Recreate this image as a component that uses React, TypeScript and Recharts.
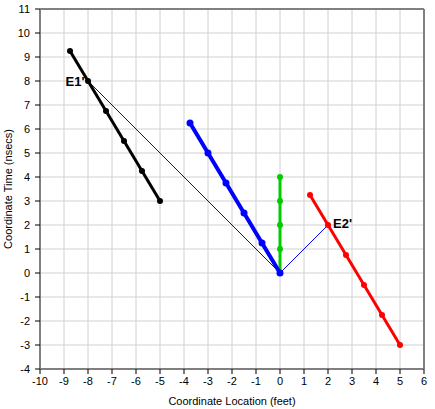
import React from "react";
import {
  LineChart, Line, XAxis, YAxis, CartesianGrid, ReferenceLine, LabelList, Label,
} from "recharts";

// valeurs
const blackPts = [
  { x: -8.75, y: 9.25 }, { x: -8, y: 8 }, { x: -7.25, y: 6.75 },
  { x: -6.5, y: 5.5 }, { x: -5.75, y: 4.25 }, { x: -5, y: 3 },
];
const bluePts = [
  { x: -3.75, y: 6.25 }, { x: -3, y: 5 }, { x: -2.25, y: 3.75 },
  { x: -1.5, y: 2.5 }, { x: -0.75, y: 1.25 }, { x: 0, y: 0 },
];
const greenPts = [
  { x: 0, y: 0 }, { x: 0, y: 1 }, { x: 0, y: 2 }, { x: 0, y: 3 }, { x: 0, y: 4 },
];
const redPts = [
  { x: 1.25, y: 3.25 }, { x: 2, y: 2 }, { x: 2.75, y: 0.75 },
  { x: 3.5, y: -0.5 }, { x: 4.25, y: -1.75 }, { x: 5, y: -3 },
];
// rayons vers E1' et E2'
const rayPts = [
  { x: -8, y: 8, name: "E1'" }, { x: 0, y: 0, name: "" }, { x: 2, y: 2, name: "E2'" },
];

const xTicks = [-10, -9, -8, -7, -6, -5, -4, -3, -2, -1, 0, 1, 2, 3, 4, 5, 6];
const yTicks = [-4, -3, -2, -1, 0, 1, 2, 3, 4, 5, 6, 7, 8, 9, 10, 11];

const FONT = "Liberation Sans, Arial, sans-serif";
const AXIS = "#808080";

function RayLabel(props: any) {
  const { x, y, value } = props;
  if (!value) return null;
  const left = value === "E1'";
  return (
    <text
      x={left ? x - 3.5 : x + 5}
      y={left ? y + 5 : y + 3}
      textAnchor={left ? "end" : "start"}
      fontFamily={FONT}
      fontSize={13}
      fontWeight={700}
      fill="#000"
    >
      {value}
    </text>
  );
}

export default function App() {
  const tick = { fill: "#000", fontSize: 11, fontFamily: FONT };
  return (
    <div style={{ position: "absolute", left: 0, top: 0, background: "#fff" }}>
      <LineChart width={435} height={409} margin={{ top: 9, right: 11, left: 0, bottom: 0 }}>
        <CartesianGrid stroke="#d0d0d0" />
        <XAxis
          type="number"
          dataKey="x"
          domain={[-10, 6]}
          ticks={xTicks}
          interval={0}
          height={40}
          tick={tick}
          tickSize={5}
          tickMargin={3}
          tickLine={{ stroke: "#000" }}
          axisLine={{ stroke: AXIS, strokeWidth: 2 }}
          allowDataOverflow
        >
          <Label
            value="Coordinate Location (feet)"
            position="insideBottom"
            offset={4}
            style={{ fontSize: 11, fontFamily: FONT, fill: "#000" }}
          />
        </XAxis>
        <YAxis
          type="number"
          dataKey="y"
          domain={[-4, 11]}
          ticks={yTicks}
          interval={0}
          width={40}
          tick={tick}
          tickSize={5}
          tickMargin={5}
          tickLine={{ stroke: "#000" }}
          axisLine={{ stroke: AXIS, strokeWidth: 2 }}
          allowDataOverflow
        >
          <Label
            value="Coordinate Time (nsecs)"
            angle={-90}
            position="insideLeft"
            offset={8}
            style={{ fontSize: 11, fontFamily: FONT, fill: "#000", textAnchor: "middle" }}
          />
        </YAxis>
        <ReferenceLine y={11} stroke={AXIS} strokeWidth={2} />
        <ReferenceLine x={6} stroke={AXIS} strokeWidth={2} />

        <Line
          data={rayPts}
          dataKey="y"
          stroke="#0000ff"
          strokeWidth={1}
          shapeRendering="crispEdges"
          dot={false}
          isAnimationActive={false}
        />
        <Line
          data={greenPts}
          dataKey="y"
          stroke="#00cc00"
          strokeWidth={3}
          dot={{ r: 3, fill: "#00cc00", strokeWidth: 0 }}
          isAnimationActive={false}
        />
        <Line
          data={redPts}
          dataKey="y"
          stroke="#ff0000"
          strokeWidth={3}
          dot={{ r: 3, fill: "#ff0000", strokeWidth: 0 }}
          isAnimationActive={false}
        />
        <Line
          data={blackPts}
          dataKey="y"
          stroke="#000"
          strokeWidth={3}
          dot={{ r: 3, fill: "#000", strokeWidth: 0 }}
          isAnimationActive={false}
        />
        <Line
          data={bluePts}
          dataKey="y"
          stroke="#0000ff"
          strokeWidth={4}
          dot={{ r: 3.5, fill: "#0000ff", strokeWidth: 0 }}
          isAnimationActive={false}
        />
        {/* étiquettes E1' / E2' au-dessus de tout */}
        <Line
          data={rayPts}
          dataKey="y"
          stroke="none"
          dot={false}
          legendType="none"
          isAnimationActive={false}
        >
          <LabelList dataKey="name" content={<RayLabel />} />
        </Line>
      </LineChart>
    </div>
  );
}
